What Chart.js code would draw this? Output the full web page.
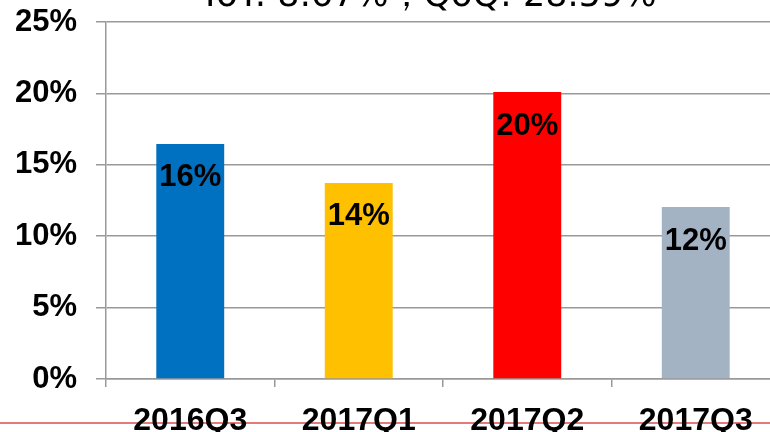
<!DOCTYPE html>
<html>
<head>
<meta charset="utf-8">
<script src="https://cdn.jsdelivr.net/npm/chart.js@4"></script>
<style>
  html, body { margin:0; padding:0; background:#fff; overflow:hidden; width:770px; height:432px; }
  #wrap { position:relative; width:770px; height:432px; overflow:hidden; background:#fff; }
  #redline { position:absolute; left:0; top:422px; width:770px; height:2px; background:#e37b7b; z-index:0; }
  #c { position:absolute; left:0; top:-24px; z-index:1; background:transparent; }
</style>
</head>
<body>
<div id="wrap">
  <div id="redline"></div>
  <canvas id="c" width="856" height="470"></canvas>
</div>
<script>
const categories = ['2016Q3', '2017Q1', '2017Q2', '2017Q3'];
const values = [16.46, 13.73, 20.1, 12.04];
const valueLabels = ['16%', '14%', '20%', '12%'];
const barColors = ['#0070C0', '#FFC000', '#FF0000', '#A3B3C3'];
const yTicks = [0, 5, 10, 15, 20, 25];
const titleText = 'YoY: 8.67%\uFF0CQoQ: 28.59%';

const labelPlugin = {
  id: 'barLabels',
  afterDatasetsDraw(chart) {
    const ctx = chart.ctx;
    const meta = chart.getDatasetMeta(0);
    ctx.save();
    ctx.font = 'bold 31px "Liberation Sans", Arial, sans-serif';
    ctx.fillStyle = '#000';
    ctx.textAlign = 'center';
    ctx.textBaseline = 'middle';
    meta.data.forEach((bar, i) => {
      ctx.fillText(valueLabels[i], bar.x, bar.y + 34);
    });
    ctx.restore();
  }
};

new Chart(document.getElementById('c'), {
  type: 'bar',
  data: {
    labels: categories,
    datasets: [{
      data: values,
      backgroundColor: barColors,
      borderWidth: 0,
      categoryPercentage: 1,
      barPercentage: 0.403
    }]
  },
  options: {
    responsive: false,
    animation: false,
    layout: { padding: 0 },
    plugins: {
      legend: { display: false },
      tooltip: { enabled: false },
      title: {
        display: true,
        text: titleText,
        color: '#000',
        font: { family: '"DejaVu Sans", sans-serif', size: 35, weight: 'normal', lineHeight: 1.2 },
        padding: { top: 0, bottom: 4 }
      }
    },
    scales: {
      x: {
        grid: { display: true, drawOnChartArea: false, drawTicks: true, tickLength: 8, color: '#999', lineWidth: 1.5, offset: true },
        border: { display: true, color: '#999', width: 1.5 },
        ticks: { color: '#000', padding: 15, font: { family: '"Liberation Sans", Arial, sans-serif', size: 32, weight: 'bold' } },
        afterFit(scale) { scale.height = 67; }
      },
      y: {
        min: 0, max: 25,
        afterBuildTicks(scale) { scale.ticks = yTicks.map(v => ({ value: v })); },
        grid: { color: '#999', lineWidth: 1.5, tickLength: 10, drawTicks: true },
        border: { display: true, color: '#999', width: 1.5 },
        ticks: { color: '#000', padding: 19, callback: v => v + '%', font: { family: '"Liberation Sans", Arial, sans-serif', size: 31, weight: 'bold' } },
        afterFit(scale) { scale.width = 106; }
      },
      y2: {
        position: 'right',
        display: true,
        grid: { display: false },
        border: { display: false },
        ticks: { display: false },
        afterFit(scale) { scale.width = 76; }
      }
    }
  },
  plugins: [labelPlugin]
});
</script>
</body>
</html>
